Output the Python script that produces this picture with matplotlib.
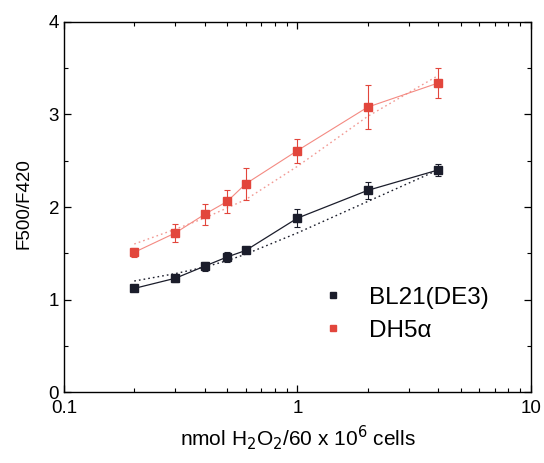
import matplotlib
matplotlib.use("Agg")
import matplotlib.pyplot as plt
from matplotlib.ticker import NullFormatter, MultipleLocator

plt.rcParams["font.family"] = ["Liberation Sans", "DejaVu Sans"]

# data
conc = [0.2, 0.3, 0.4, 0.5, 0.6, 1, 2, 4]
bl21 = [1.12, 1.23, 1.36, 1.46, 1.53, 1.88, 2.18, 2.40]
bl21_err = [0.03, 0.04, 0.05, 0.05, 0.03, 0.10, 0.09, 0.065]
dh5a = [1.51, 1.72, 1.92, 2.06, 2.25, 2.61, 3.08, 3.34]
dh5a_err = [0.05, 0.097, 0.115, 0.12, 0.175, 0.13, 0.24, 0.166]
# dotted fit curves, read at the same concentrations
bl21_fit = [1.20, 1.28, 1.35, 1.42, 1.49, 1.72, 2.06, 2.40]
dh5a_fit = [1.60, 1.76, 1.88, 1.99, 2.08, 2.44, 2.98, 3.42]

BLK = "#1b1d2b"
RED = "#e2463c"

fig = plt.figure(figsize=(5.44, 4.63), dpi=100)
ax = fig.add_axes([0.1176, 0.1533, 0.8584, 0.7992])

ax.plot(conc, bl21_fit, ls=(0, (1.2, 2.2)), color=BLK, lw=1.0)
ax.plot(conc, dh5a_fit, ls=(0, (1.2, 2.2)), color="#f29a94", lw=1.0)
ax.plot(conc, bl21, "-", color=BLK, lw=0.9)
ax.plot(conc, dh5a, "-", color="#f48a82", lw=0.8)
ax.errorbar(conc, bl21, yerr=bl21_err, fmt="s", color=BLK, ms=6, capsize=2.5,
            elinewidth=0.8, capthick=0.8, label="BL21(DE3)")
ax.errorbar(conc, dh5a, yerr=dh5a_err, fmt="s", color=RED, ms=6, capsize=2.5,
            elinewidth=0.8, capthick=0.8, label="DH5\u03b1")

ax.set_xscale("log")
ax.set_xlim(0.1, 10)
ax.set_ylim(0, 4)
ax.set_xticks([0.1, 1, 10])
ax.set_xticklabels(["0.1", "1", "10"])
ax.xaxis.set_minor_formatter(NullFormatter())
ax.set_yticks([0, 1, 2, 3, 4])
ax.yaxis.set_minor_locator(MultipleLocator(0.5))
ax.tick_params(which="both", direction="in", top=True, right=True, labelsize=13.5)
ax.tick_params(axis="x", pad=6)
ax.tick_params(which="major", length=5, width=0.9)
ax.tick_params(which="minor", length=3, width=0.8)
for s in ax.spines.values():
    s.set_linewidth(1.0)

ax.set_xlabel(r"nmol H$_2$O$_2$/60 x 10$^6$ cells", fontsize=15, labelpad=4)
ax.set_ylabel("F500/F420", fontsize=13.5)
ax.yaxis.set_label_coords(-0.068, 0.51)

h, l = ax.get_legend_handles_labels()
h = [hh[0] for hh in h]
ax.legend(h, l, loc="center left", bbox_to_anchor=(0.504, 0.21), frameon=False,
          fontsize=17.5, handletextpad=0.95, labelspacing=0.45, handlelength=1.0,
          markerscale=0.75)

fig.savefig("out.png", dpi=100)
